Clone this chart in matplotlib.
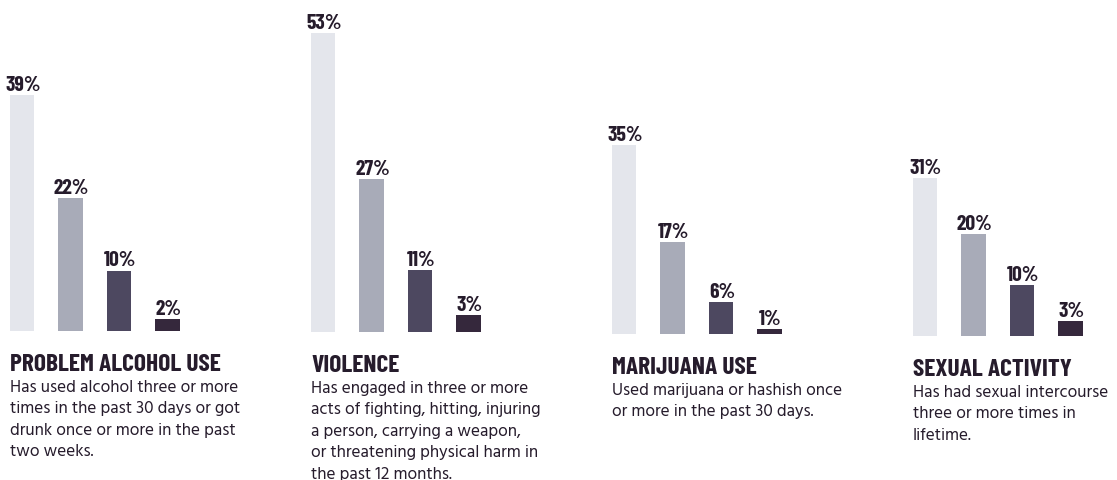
import matplotlib
matplotlib.use('Agg')
import matplotlib.pyplot as plt

# values (percent of youth)
titles = ['PROBLEM ALCOHOL USE', 'VIOLENCE', 'MARIJUANA USE', 'SEXUAL ACTIVITY']
alcohol = [39, 22, 10, 2]
violence = [53, 27, 11, 3]
marijuana = [35, 17, 6, 1]
sexual = [31, 20, 10, 3]
descriptions = [
    ['Has used alcohol three or more', 'times in the past 30 days or got',
     'drunk once or more in the past', 'two weeks.'],
    ['Has engaged in three or more', 'acts of fighting, hitting, injuring',
     'a person, carrying a weapon,', 'or threatening physical harm in',
     'the past 12 months.'],
    ['Used marijuana or hashish once', 'or more in the past 30 days.'],
    ['Has had sexual intercourse', 'three or more times in', 'lifetime.'],
]
series = [alcohol, violence, marijuana, sexual]

bar_colors = ['#e4e6ec', '#a8abb8', '#4d4860', '#35283c']
ink = '#261c2c'
cond = ['Barlow Condensed', 'Roboto Condensed', 'Oswald', 'DejaVu Sans']
body = ['Hind', 'Source Sans 3', 'Noto Sans', 'DejaVu Sans']

W, H = 1117, 481
# panel layout in pixels: first bar centre, baseline, pixels per percent
first_x = [22, 323, 624, 925]
baseline = [332, 333, 335, 337]
px_per = [6.05, 5.65, 5.4, 5.1]
step = 48.5

fig = plt.figure(figsize=(W / 100, H / 100), dpi=100)
fig.patch.set_facecolor('white')

for k in range(4):
    vals = series[k]
    left = first_x[k] - 0.5 * step
    ax = fig.add_axes([left / W, (H - baseline[k]) / H, 4 * step / W, baseline[k] / H])
    ax.bar(range(4), vals, width=0.495, color=bar_colors)
    ax.set_xlim(-0.5, 3.5)
    ax.set_ylim(0, baseline[k] / px_per[k])
    ax.axis('off')
    for i, v in enumerate(vals):
        ax.annotate(f'{v}%', (i, v), xytext=(1, 5), textcoords='offset pixels',
                    ha='center', va='baseline', fontsize=15.5, fontweight='bold',
                    family=cond, color=ink)

    tx = (first_x[k] - 12) / W
    fig.text(tx, (H - (baseline[k] + 39)) / H, titles[k], fontsize=18.3,
             fontweight='bold', family=cond, color=ink, va='baseline')
    for j, line in enumerate(descriptions[k]):
        y = baseline[k] + 60 + j * 21.4
        fig.text(tx, (H - y) / H, line, fontsize=12.3, family=body,
                 color=ink, va='baseline')

fig.savefig('out.png', dpi=100)
